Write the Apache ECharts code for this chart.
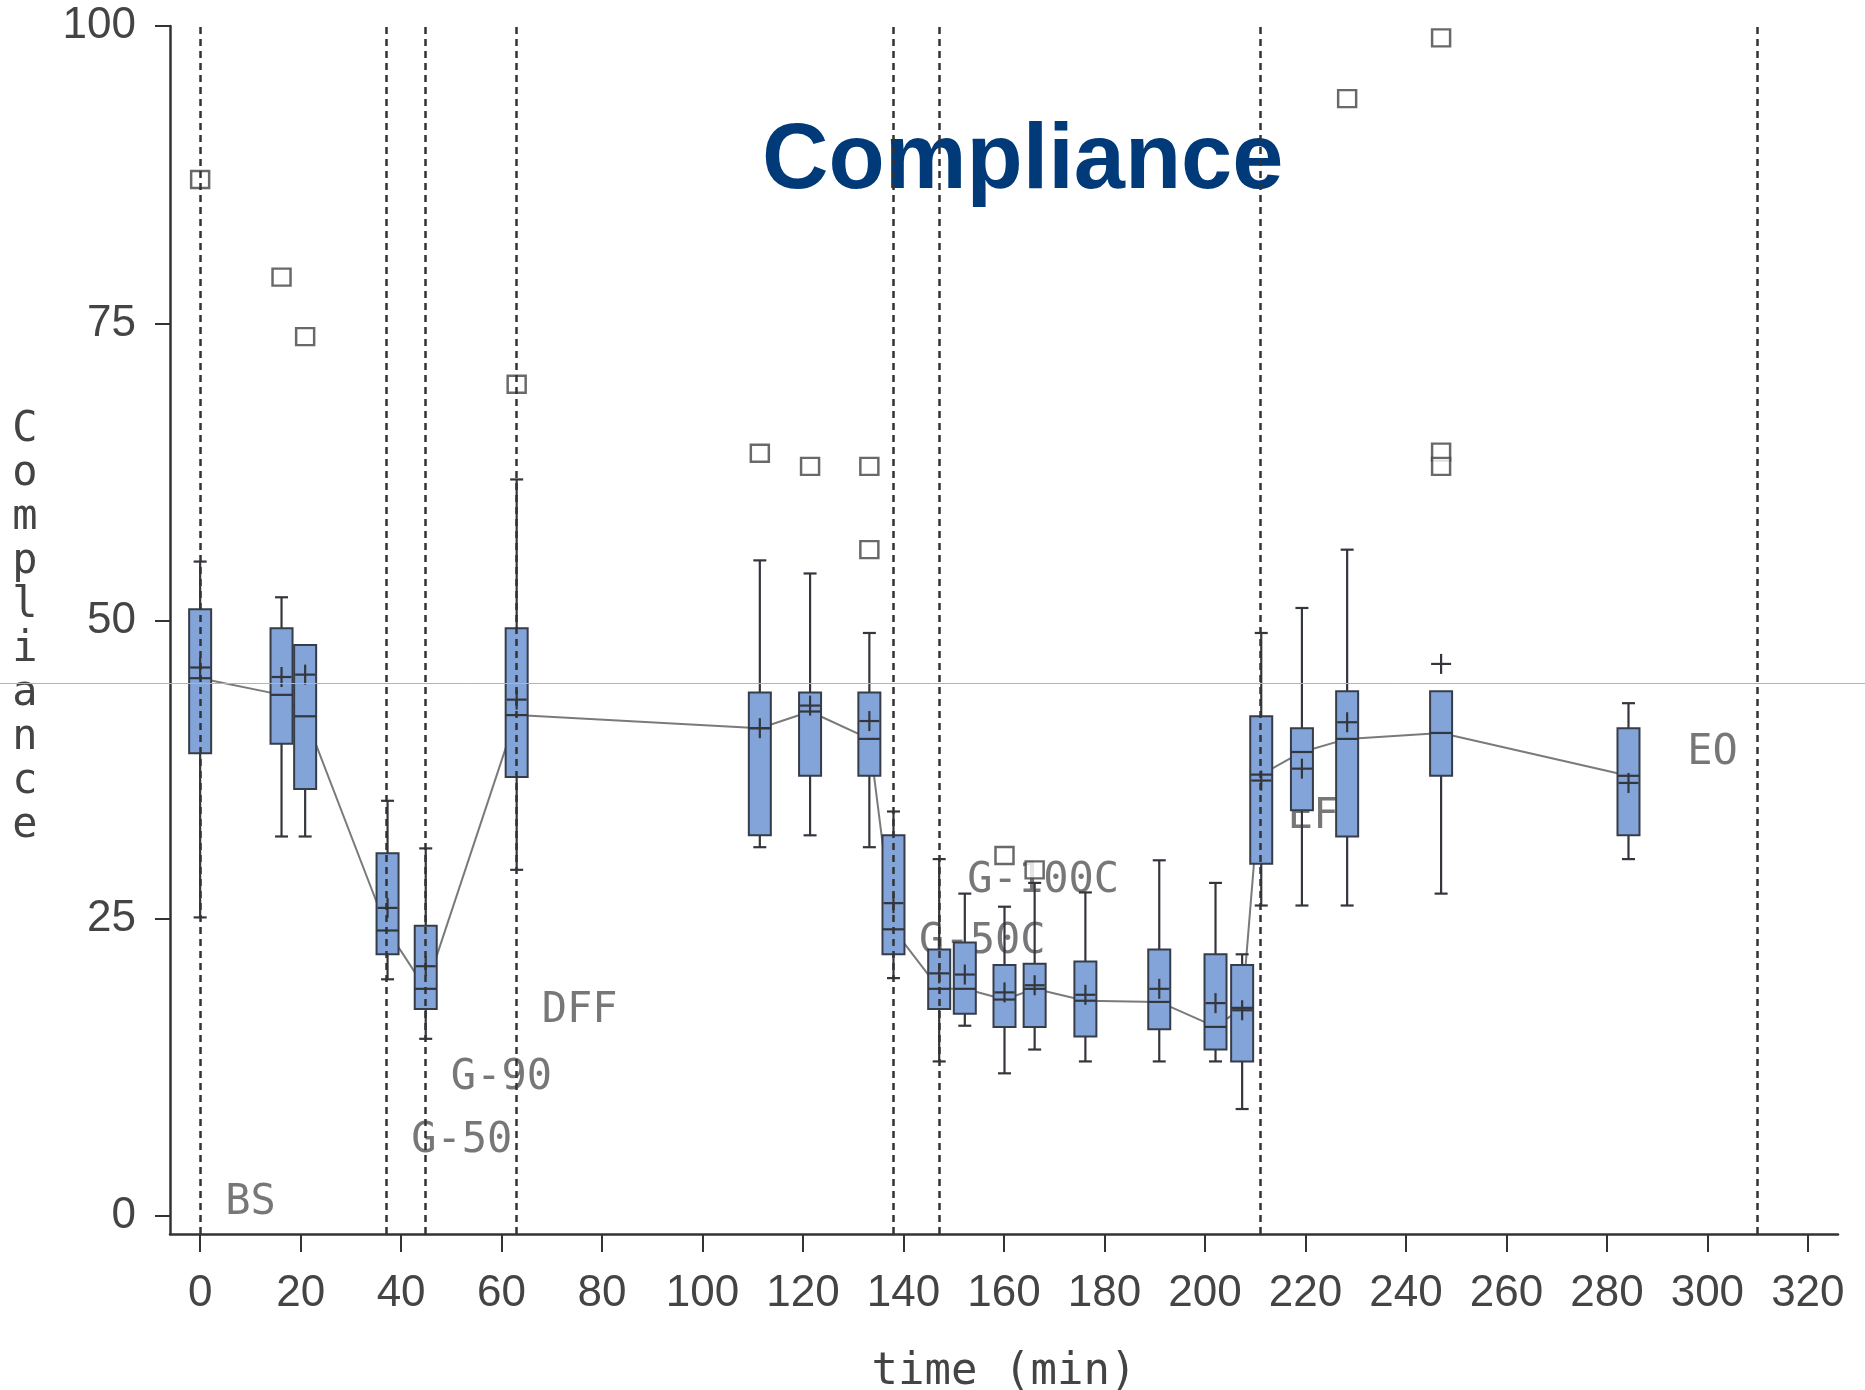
<!DOCTYPE html>
<html><head><meta charset="utf-8">
<script src="https://cdn.jsdelivr.net/npm/echarts@6/dist/echarts.min.js"></script>
<style>html,body{margin:0;padding:0;background:#fff}#c{width:1865px;height:1390px}</style>
</head><body><div id="c"></div>
<script>
// ---- data ----
const times       = [0, 16.2, 20.9, 37.3, 44.9, 63.0, 111.4, 121.4, 133.2, 138.0, 147.1, 152.2, 160.1, 166.1, 176.2, 190.9, 202.1, 207.4, 211.2, 219.3, 228.3, 247.0, 284.3];
const whiskerLow  = [25.1, 31.9, 31.9, 19.9, 14.9, 29.1, 31.0, 32.0, 31.0, 20.0, 13.0, 16.0, 12.0, 14.0, 13.0, 13.0, 13.0, 9.0, 26.1, 26.1, 26.1, 27.1, 30.0];
const q1          = [38.9, 39.7, 35.9, 22.0, 17.4, 36.9, 32.0, 37.0, 37.0, 22.0, 17.4, 17.0, 15.9, 15.9, 15.1, 15.7, 14.0, 13.0, 29.6, 34.1, 31.9, 37.0, 32.0];
const median      = [45.2, 43.8, 42.0, 24.0, 19.1, 42.1, 41.0, 42.4, 40.1, 24.1, 19.1, 19.1, 18.2, 19.1, 18.1, 18.0, 15.9, 17.5, 37.1, 39.0, 40.1, 40.6, 37.0];
const q3          = [51.0, 49.4, 48.0, 30.5, 24.4, 49.4, 44.0, 44.0, 44.0, 32.0, 22.4, 23.0, 21.1, 21.2, 21.4, 22.4, 22.0, 21.1, 42.0, 41.0, 44.1, 44.1, 41.0];
const whiskerHigh = [55.0, 52.0, 48.0, 34.9, 30.9, 61.9, 55.1, 54.0, 49.0, 34.0, 30.0, 27.1, 26.0, 28.0, 27.2, 29.9, 28.0, 22.0, 49.0, 51.1, 56.0, 44.1, 43.1];
const mean        = [46.1, 45.3, 45.5, 25.9, 21.0, 43.4, 41.0, 42.9, 41.6, 26.3, 20.4, 20.3, 18.8, 19.4, 18.6, 19.1, 17.9, 17.3, 36.6, 37.6, 41.5, 46.4, 36.4];

const outlierTimes  = [0, 16.2, 20.9, 63.0, 111.4, 121.4, 133.2, 133.2, 160.1, 166.1, 228.3, 247.0, 247.0, 247.0];
const outlierValues = [87.1, 78.9, 73.9, 69.9, 64.1, 63.0, 63.0, 56.0, 30.3, 29.1, 93.9, 99.0, 64.2, 63.0];

const phaseTimes  = [0, 37.1, 44.8, 62.9, 138.0, 147.2, 211.0, 310.0];
const phaseLabels = ['BS', 'G-50', 'G-90', 'DFF', 'G-50C', 'G-100C', 'EF', 'EO'];
const phaseLabelX = [5.0, 42.0, 49.9, 68.0, 143.1, 152.7, 216.5, 296.0];
const phaseLabelY = [0.0, 5.2, 10.5, 16.1, 21.9, 27.1, 32.4, 37.8];

const xTicks = [0, 20, 40, 60, 80, 100, 120, 140, 160, 180, 200, 220, 240, 260, 280, 300, 320];
const yTicks = [0, 25, 50, 75, 100];

// ---- chart ----
const chart = echarts.init(document.getElementById('c'), null, {renderer: 'canvas'});
const tickFont = "'Liberation Sans', Arial, sans-serif";
const monoFont = "'DejaVu Sans Mono', monospace";
const ink = '#333333';

const boxData = times.map((t, i) => [t, whiskerLow[i], q1[i], median[i], q3[i], whiskerHigh[i], mean[i]]);

function renderBox(params, api) {
  const x = api.value(0);
  const lo = api.value(1), a = api.value(2), m = api.value(3), b = api.value(4), hi = api.value(5), mu = api.value(6);
  const pLo = api.coord([x, lo]), pA = api.coord([x, a]), pM = api.coord([x, m]);
  const pB = api.coord([x, b]), pHi = api.coord([x, hi]), pMu = api.coord([x, mu]);
  const cx = pA[0], hw = 11, cw = 6.5, pw = 10;
  const ls = {stroke: '#33363c', lineWidth: 2.2};
  const ch = [];
  if (hi > b) {
    ch.push({type: 'line', shape: {x1: cx, y1: pHi[1], x2: cx, y2: pB[1]}, style: ls});
    ch.push({type: 'line', shape: {x1: cx - cw, y1: pHi[1], x2: cx + cw, y2: pHi[1]}, style: ls});
  }
  if (lo < a) {
    ch.push({type: 'line', shape: {x1: cx, y1: pA[1], x2: cx, y2: pLo[1]}, style: ls});
    ch.push({type: 'line', shape: {x1: cx - cw, y1: pLo[1], x2: cx + cw, y2: pLo[1]}, style: ls});
  }
  ch.push({type: 'rect', shape: {x: cx - hw, y: pB[1], width: 2 * hw, height: pA[1] - pB[1]},
           style: {fill: '#82a4d9', stroke: '#363c48', lineWidth: 2}});
  ch.push({type: 'line', shape: {x1: cx - hw, y1: pM[1], x2: cx + hw, y2: pM[1]}, style: ls});
  ch.push({type: 'line', shape: {x1: cx - pw, y1: pMu[1], x2: cx + pw, y2: pMu[1]}, style: ls});
  ch.push({type: 'line', shape: {x1: cx, y1: pMu[1] - pw, x2: cx, y2: pMu[1] + pw}, style: ls});
  return {type: 'group', children: ch};
}

const option = {
  backgroundColor: '#ffffff',
  animation: false,
  title: {
    text: 'Compliance', left: 757, top: 112, z: 1,
    textStyle: {fontFamily: "'Liberation Sans', Arial, sans-serif", fontSize: 92, fontWeight: 'bold', color: '#003a78'}
  },
  grid: {left: 170, right: 27, top: 26, bottom: 156, containLabel: false, outerBoundsMode: 'none'},
  xAxis: {
    type: 'value', min: -6, max: 326,
    axisLine: {show: true, onZero: false, lineStyle: {color: ink, width: 2.5}},
    axisTick: {show: true, customValues: xTicks, length: 18, lineStyle: {color: ink, width: 2}},
    axisLabel: {customValues: xTicks, margin: 38, align: 'center', fontFamily: tickFont, fontSize: 44, color: '#444'},
    splitLine: {show: false},
    name: 'time (min)', nameLocation: 'middle', nameGap: 117,
    nameTextStyle: {fontFamily: monoFont, fontSize: 44, color: '#444'}
  },
  yAxis: {
    type: 'value', min: -1.5, max: 100,
    axisLine: {show: true, onZero: false, lineStyle: {color: ink, width: 2.5}},
    axisTick: {show: true, customValues: yTicks, length: 15, lineStyle: {color: ink, width: 2}},
    axisLabel: {customValues: yTicks, margin: 34, align: 'right', verticalAlign: 'middle', fontFamily: tickFont, fontSize: 44, color: '#444'},
    splitLine: {show: false}
  },
  series: [
    {
      type: 'scatter', name: 'phase labels', z: 1, silent: true,
      symbolSize: 0,
      data: phaseLabels.map((s, i) => ({name: s, value: [phaseLabelX[i], phaseLabelY[i]]})),
      label: {show: true, formatter: '{b}', position: [0, 0], align: 'left', verticalAlign: 'bottom', offset: [0, 8],
              fontFamily: monoFont, fontSize: 42, color: '#555'},
      markLine: {
        silent: true, symbol: ['none', 'none'], label: {show: false},
        lineStyle: {color: '#333', width: 2.5, type: [7, 5]},
        data: phaseTimes.map(t => ({xAxis: t}))
      }
    },
    {
      type: 'line', name: 'median', z: 2, silent: true,
      data: times.map((t, i) => [t, median[i]]),
      symbol: 'none', lineStyle: {color: '#7a7a7a', width: 2}
    },
    {
      type: 'custom', name: 'boxes', z: 3,
      renderItem: renderBox,
      encode: {x: 0, y: [1, 2, 3, 4, 5, 6]},
      data: boxData
    },
    {
      type: 'scatter', name: 'outliers', z: 4,
      symbol: 'rect', symbolSize: [18, 17],
      itemStyle: {color: '#ffffff', borderColor: '#444', borderWidth: 2.4},
      data: outlierTimes.map((t, i) => [t, outlierValues[i]])
    }
  ],
  graphic: [
    {
      type: 'text', silent: true, x: 25, y: 628,
      style: {text: 'Compliance', width: 30, overflow: 'breakAll', lineHeight: 44,
              font: "42px 'DejaVu Sans Mono', monospace", fill: '#444', align: 'center', verticalAlign: 'middle'}
    },
    {
      type: 'line', silent: true, z: 100,
      shape: {x1: 0, y1: 683.5, x2: 1865, y2: 683.5},
      style: {stroke: '#9cb8e0', lineWidth: 1}
    }
  ]
};
chart.setOption(option);
</script>
</body></html>
